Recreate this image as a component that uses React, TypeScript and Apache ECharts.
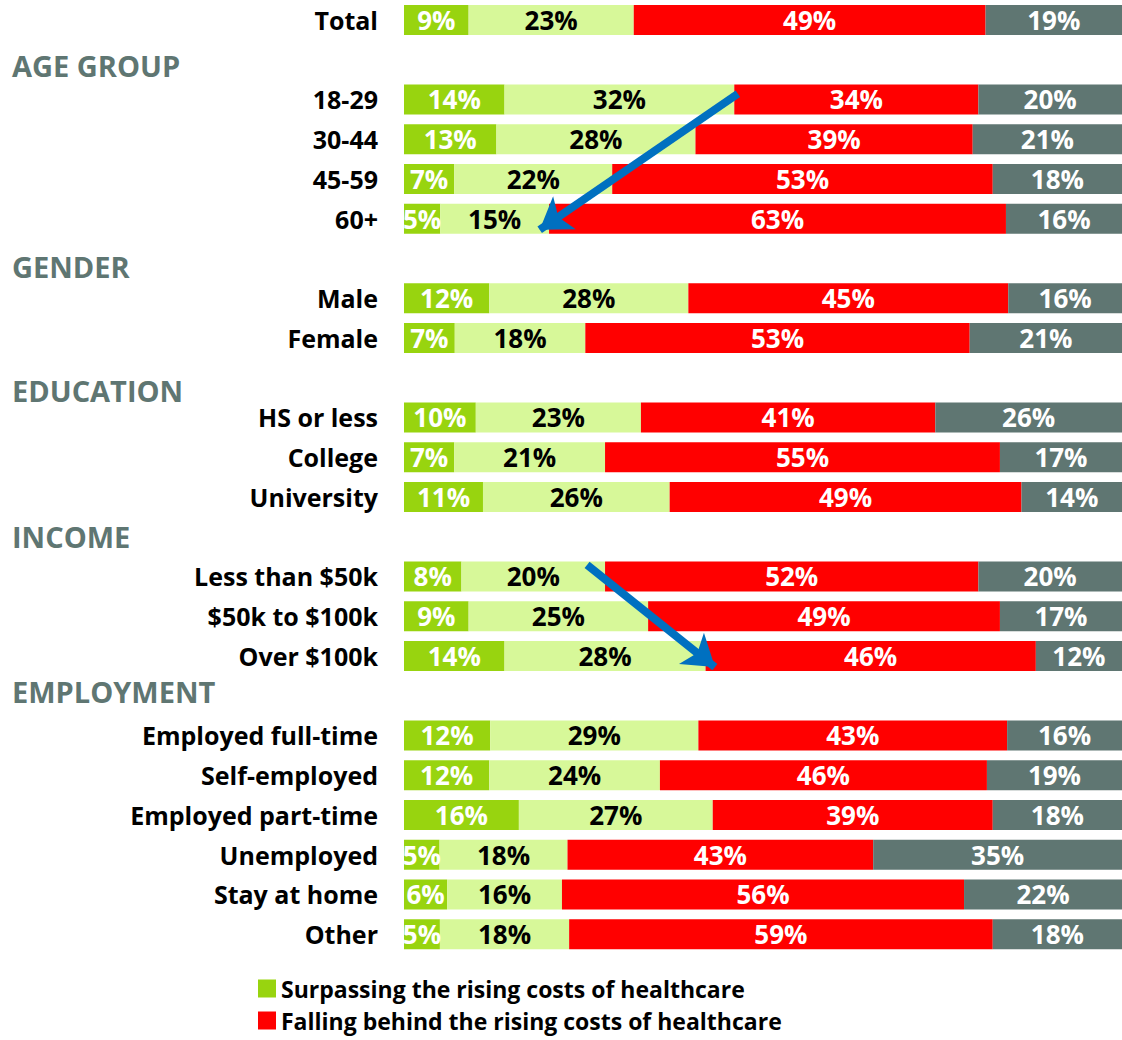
import React, { useEffect, useRef } from "react";
import * as echarts from "echarts";

const rows = [
  "Total",
  "AGE GROUP", "18-29", "30-44", "45-59", "60+",
  "GENDER", "Male", "Female",
  "EDUCATION", "HS or less", "College", "University",
  "INCOME", "Less than $50k", "$50k to $100k", "Over $100k",
  "EMPLOYMENT", "Employed full-time", "Self-employed", "Employed part-time", "Unemployed", "Stay at home", "Other",
];
const headers = ["AGE GROUP", "GENDER", "EDUCATION", "INCOME", "EMPLOYMENT"];
const headerShift = [6, 8, 13, 0, -4];

const seriesNames = [
  "Surpassing the rising costs of healthcare",
  "Keeping pace with the rising costs of healthcare",
  "Falling behind the rising costs of healthcare",
  "Don't know",
];
const surpassing = [9, null, 14, 13, 7, 5, null, 12, 7, null, 10, 7, 11, null, 8, 9, 14, null, 12, 12, 16, 5, 6, 5];
const keeping = [23, null, 32, 28, 22, 15, null, 28, 18, null, 23, 21, 26, null, 20, 25, 28, null, 29, 24, 27, 18, 16, 18];
const falling = [49, null, 34, 39, 53, 63, null, 45, 53, null, 41, 55, 49, null, 52, 49, 46, null, 43, 46, 39, 43, 56, 59];
const dontKnow = [19, null, 20, 21, 18, 16, null, 16, 21, null, 26, 17, 14, null, 20, 17, 12, null, 16, 19, 18, 35, 22, 18];

const colors = ["#98D40F", "#D7F899", "#FF0000", "#5F7672"];
const labelColors = ["#FFFFFF", "#000000", "#FFFFFF", "#FFFFFF"];

// arrows: [x value (%), row position (fractional row index)] start -> end
const arrows = [
  [[46.5, 1.86], [18.9, 5.28]],
  [[25.5, 13.71], [43.3, 16.28]],
];

const FONT = "Open Sans";

export default function App() {
  const ref = useRef<HTMLDivElement>(null);
  useEffect(() => {
    const chart = echarts.init(ref.current!, null, { renderer: "svg" });
    const all = [surpassing, keeping, falling, dontKnow];
    const sums = rows.map((_, i) =>
      all.reduce((s, arr) => s + (arr[i] == null ? 0 : (arr[i] as number)), 0)
    );
    const rich: any = {
      c: { fontFamily: FONT, fontWeight: "bold", fontSize: 25, color: "#000" },
    };
    headers.forEach((h, k) => {
      const d = headerShift[k];
      rich["h" + k] = {
        fontFamily: FONT,
        fontWeight: "bold",
        fontSize: 29,
        color: "#5F7672",
        width: 366,
        align: "left",
        padding: d >= 0 ? [2 * d, 0, 0, 0] : [0, 0, -2 * d, 0],
      };
    });
    const barSeries = all.map((arr, si) => ({
      name: seriesNames[si],
      type: "bar",
      stack: "total",
      barWidth: 30,
      itemStyle: { color: colors[si] },
      label: {
        show: true,
        position: "inside",
        color: labelColors[si],
        fontFamily: FONT,
        fontWeight: "bold",
        fontSize: 26,
        formatter: (p: any) => (p.data && p.data.raw != null ? p.data.raw + "%" : ""),
      },
      data: arr.map((v, i) =>
        v == null ? { value: null, raw: null } : { value: (v * 100) / sums[i], raw: v }
      ),
    }));
    const arrowSeries = {
      type: "lines",
      coordinateSystem: "cartesian2d",
      xAxisIndex: 0,
      yAxisIndex: 1,
      symbol: ["none", "arrow"],
      symbolSize: 30,
      lineStyle: { color: "#0070C0", width: 8, opacity: 1, curveness: 0 },
      z: 10,
      silent: true,
      data: arrows.map((a) => ({ coords: a })),
    };
    const legendBase = {
      orient: "vertical",
      left: 258,
      itemWidth: 18,
      itemHeight: 18,
      icon: "rect",
      padding: 0,
      textStyle: { fontFamily: FONT, fontWeight: "bold", fontSize: 23, color: "#000" },
    };
    chart.setOption({
      animation: false,
      grid: { left: 404, right: 0, top: 0, height: 954, containLabel: false },
      legend: [
        { ...legendBase, data: [seriesNames[0]], top: 977 },
        { ...legendBase, data: [seriesNames[2]], top: 1009 },
      ],
      xAxis: { type: "value", min: 0, max: 100, show: false },
      yAxis: [
        {
          type: "category",
          data: rows,
          inverse: true,
          axisLine: { show: false },
          axisTick: { show: false },
          splitLine: { show: false },
          axisLabel: {
            margin: 26,
            align: "right",
            interval: 0,
            formatter: (v: string) => {
              const k = headers.indexOf(v);
              return k >= 0 ? `{h${k}|${v}}` : `{c|${v}}`;
            },
            rich,
          },
        },
        {
          type: "value",
          min: -0.5,
          max: rows.length - 0.5,
          inverse: true,
          show: false,
        },
      ],
      series: [...barSeries, arrowSeries],
    });
    return () => chart.dispose();
  }, []);
  return (
    <div
      ref={ref}
      style={{ position: "absolute", left: 0, top: 0, width: 1122, height: 1040, background: "#fff" }}
    />
  );
}
